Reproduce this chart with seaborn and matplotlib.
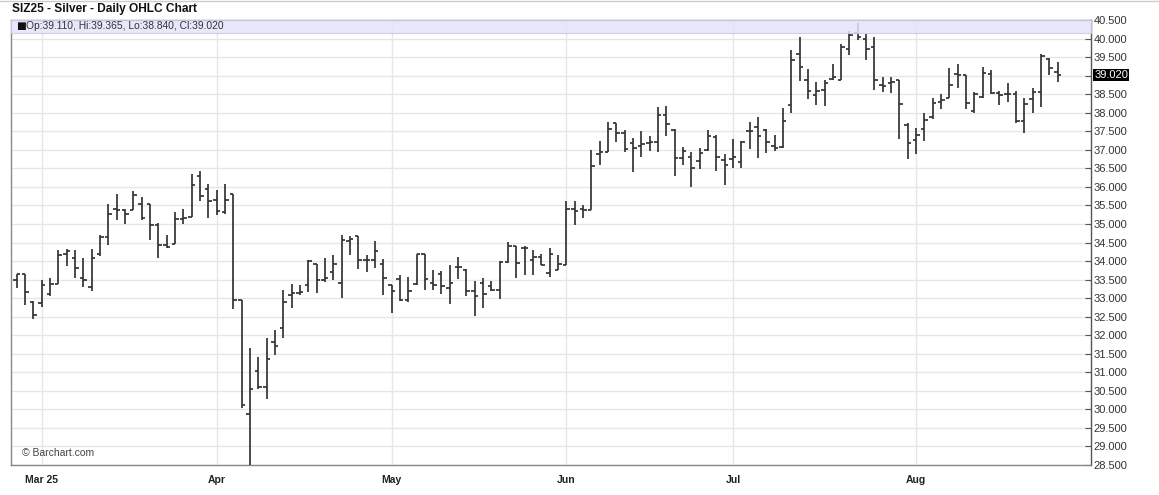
import numpy as np
import pandas as pd
import matplotlib
matplotlib.use('Agg')
import matplotlib.pyplot as plt
import matplotlib.transforms as mtransforms
from matplotlib.patches import Rectangle
import seaborn as sns

# OHLC values, one per trading day from 2025-02-26 to 2025-08-26
opens = [33.48, 33.64, 32.90, 32.87, 33.10, 33.39, 34.20, 34.08, 33.55, 33.30,
         34.20, 34.65, 35.40, 35.38, 35.38, 35.55, 35.54, 34.96, 34.42, 34.45,
         35.13, 35.18, 36.30, 35.94, 35.64, 35.31, 35.80, 32.96, 29.87, 31.03,
         30.59, 31.83, 32.19, 33.08, 33.14, 33.35, 33.93, 33.50, 33.70, 33.40,
         34.55, 34.67, 34.04, 34.04, 33.93, 33.36, 33.51, 32.95, 33.39, 34.18,
         33.41, 33.65, 33.27, 33.83, 33.76, 33.19, 33.42, 33.32, 33.23, 33.98,
         34.40, 34.35, 34.04, 34.10, 33.69, 33.76, 33.88, 35.41, 35.41, 35.38,
         36.89, 36.93, 37.72, 37.44, 37.17, 37.11, 37.17, 37.20, 37.94, 37.53,
         36.78, 36.81, 36.69, 36.99, 37.35, 36.72, 36.75, 36.67, 37.52, 37.61,
         37.54, 37.09, 37.07, 38.20, 39.59, 38.87, 38.47, 38.60, 38.92, 38.89,
         39.73, 40.15, 40.00, 39.77, 38.74, 38.80, 38.87, 37.66, 37.26, 37.55,
         37.89, 38.30, 38.41, 39.05, 39.03, 38.05, 38.42, 39.05, 38.54, 38.50,
         38.51, 37.78, 38.36, 38.57, 39.44, 39.11]
highs = [33.64, 33.64, 32.93, 33.50, 33.53, 34.29, 34.33, 34.29, 34.09, 34.33,
         34.71, 35.54, 35.80, 35.40, 35.89, 35.73, 35.54, 35.02, 34.71, 35.31,
         35.40, 36.34, 36.43, 36.09, 35.91, 36.07, 35.80, 32.96, 31.65, 31.41,
         31.92, 32.13, 33.21, 33.39, 33.35, 34.04, 33.93, 34.09, 34.17, 34.69,
         34.67, 34.67, 34.16, 34.55, 34.05, 33.36, 33.63, 33.57, 34.20, 34.20,
         33.76, 33.72, 33.89, 34.12, 33.78, 33.45, 33.54, 33.45, 34.00, 34.51,
         34.40, 34.40, 34.29, 34.20, 34.34, 34.16, 35.63, 35.63, 35.50, 36.99,
         37.24, 37.76, 37.72, 37.53, 37.33, 37.51, 37.38, 38.16, 38.19, 37.56,
         37.07, 36.93, 37.05, 37.53, 37.41, 36.89, 37.29, 37.23, 37.75, 37.88,
         37.57, 37.39, 38.14, 39.68, 40.03, 39.19, 38.83, 38.87, 39.32, 39.86,
         40.20, 40.41, 40.12, 40.03, 38.95, 38.95, 38.87, 37.73, 37.58, 38.00,
         38.41, 38.50, 39.21, 39.32, 39.03, 38.57, 39.23, 39.14, 38.58, 38.81,
         38.59, 38.39, 38.67, 39.57, 39.48, 39.365]
lows = [33.26, 32.81, 32.43, 32.76, 33.06, 33.39, 33.86, 33.53, 33.30, 33.20,
        34.13, 34.42, 35.10, 35.00, 35.38, 35.10, 34.57, 34.09, 34.35, 34.45,
        35.00, 35.18, 35.62, 35.16, 35.25, 35.27, 32.72, 30.04, 28.30, 30.54,
        30.27, 31.47, 31.92, 32.74, 33.08, 33.17, 33.14, 33.44, 33.48, 33.00,
        34.16, 33.78, 33.70, 33.82, 33.08, 32.61, 32.92, 32.90, 33.36, 33.21,
        33.21, 33.12, 32.83, 33.51, 33.07, 32.52, 32.74, 33.19, 32.98, 33.94,
        33.54, 33.63, 33.63, 33.90, 33.57, 33.76, 33.88, 34.98, 35.15, 35.38,
        36.60, 36.93, 37.20, 36.93, 36.39, 36.80, 36.98, 36.93, 37.38, 36.28,
        36.60, 35.99, 36.48, 36.96, 36.44, 36.05, 36.51, 36.51, 37.03, 36.78,
        36.91, 36.96, 37.05, 37.99, 38.86, 38.38, 38.20, 38.17, 38.89, 38.87,
        39.55, 39.95, 39.43, 38.60, 38.56, 38.53, 37.28, 36.75, 36.88, 37.24,
        37.82, 38.09, 38.41, 38.66, 38.09, 38.00, 38.39, 38.50, 38.21, 38.30,
        37.73, 37.44, 37.98, 38.15, 39.03, 38.84]
closes = [33.64, 33.17, 32.54, 33.35, 33.39, 34.15, 34.28, 33.80, 33.48, 34.09,
          34.65, 35.27, 35.38, 35.27, 35.79, 35.16, 34.96, 34.42, 34.39, 35.13,
          35.16, 36.05, 35.76, 35.61, 35.36, 35.64, 32.96, 30.13, 30.54, 30.59,
          31.36, 31.71, 32.90, 33.14, 33.17, 34.00, 33.48, 33.54, 33.93, 34.57,
          34.60, 34.04, 34.04, 34.28, 33.54, 33.19, 32.96, 33.19, 34.18, 33.51,
          33.36, 33.34, 33.41, 33.85, 33.19, 33.07, 33.10, 33.23, 33.98, 34.40,
          33.94, 34.35, 34.10, 33.90, 34.18, 33.91, 35.41, 35.34, 35.38, 36.57,
          36.93, 37.56, 37.44, 37.02, 37.06, 37.15, 37.20, 37.94, 37.69, 36.78,
          36.98, 36.51, 36.90, 37.38, 36.80, 36.60, 36.81, 37.21, 37.52, 37.36,
          37.21, 37.05, 37.77, 39.43, 39.23, 38.59, 38.59, 38.80, 38.96, 39.76,
          40.09, 40.05, 39.73, 38.87, 38.71, 38.83, 38.23, 37.17, 37.40, 37.80,
          38.27, 38.33, 38.76, 39.03, 38.27, 38.50, 39.08, 38.54, 38.48, 38.51,
          37.78, 38.24, 38.57, 39.53, 39.20, 39.02]

holidays = ['2025-04-18', '2025-05-26', '2025-06-19', '2025-07-04']
dates = pd.bdate_range('2025-02-26', '2025-08-26')
dates = dates[~dates.isin(pd.to_datetime(holidays))]

df = pd.DataFrame({'Date': dates, 'Open': opens, 'High': highs,
                   'Low': lows, 'Close': closes})
df['x'] = np.arange(len(df))

# first trading day of each month (skip February)
firsts = df.groupby(df['Date'].dt.to_period('M'))['x'].first()
firsts = firsts[firsts.index.month != 2]
month_labels = [d.strftime('%b') for d in firsts.index]
month_labels[0] = 'Mar 25'

sns.set_style('white')
plt.rcParams['font.family'] = ['Liberation Sans', 'DejaVu Sans']

fig = plt.figure(figsize=(11.59, 4.95), dpi=100)
ax = fig.add_axes([0.0095, 0.0606, 0.9318, 0.899])

bar_col = '#333333'
w = 0.42
ax.vlines(df['x'], df['Low'], df['High'], color=bar_col, lw=1.25, zorder=3)
ax.hlines(df['Open'], df['x'] - w, df['x'], color=bar_col, lw=1.25, zorder=3)
ax.hlines(df['Close'], df['x'], df['x'] + w, color=bar_col, lw=1.25, zorder=3)

ax.set_xlim(-0.7, 129.0)
ax.set_ylim(28.5, 40.5)

yt = np.arange(28.5, 40.51, 0.5)
ax.set_yticks(yt)
ax.set_yticklabels([f'{v:.3f}' for v in yt])
ax.yaxis.tick_right()
ax.tick_params(axis='y', direction='in', length=4, pad=2, labelsize=8,
               labelcolor='#333333', color='#555555', right=True, left=False)

ax.set_xticks(firsts.values)
ax.set_xticklabels(month_labels, fontweight='bold')
ax.tick_params(axis='x', direction='out', length=2, pad=5, labelsize=7.5,
               labelcolor='#222222', color='#777777')

ax.grid(True, color='#e6e6e6', lw=1, zorder=0)
ax.set_axisbelow(True)

for side in ['left', 'bottom', 'top']:
    ax.spines[side].set_color('#888888')
    ax.spines[side].set_linewidth(1)
ax.spines['right'].set_color('#555555')
ax.spines['right'].set_linewidth(1)

# legend band at the top of the plot
band_h = 13 / 445
ax.add_patch(Rectangle((0, 1 - band_h), 1, band_h, transform=ax.transAxes,
                       facecolor='#e4e4fa', edgecolor='#c9c9e4', lw=0.8,
                       alpha=0.85, zorder=4, clip_on=False))
ax.text(0.0045, 1 - band_h / 2, '\u25A0', transform=ax.transAxes, fontsize=7.5,
        va='center', ha='left', color='#111111', zorder=5,
        family=['DejaVu Sans'])
ax.text(0.0135, 1 - band_h / 2, 'Op:39.110, Hi:39.365, Lo:38.840, Cl:39.020',
        transform=ax.transAxes, fontsize=7.4, va='center', ha='left',
        color='#333333', zorder=5)

ax.text(0.01, 0.028, '\u00a9 Barchart.com', transform=ax.transAxes,
        fontsize=7.5, va='center', ha='left', color='#444444', zorder=5)

# last price label on the axis
trans = mtransforms.blended_transform_factory(ax.transAxes, ax.transData)
ax.text(1.003, closes[-1], f'{closes[-1]:.3f}', transform=trans, fontsize=8,
        va='center', ha='left', color='#ffffff', zorder=6,
        bbox=dict(boxstyle='square,pad=0.12', facecolor='#000000',
                  edgecolor='none'))

fig.text(0.0105, 0.981, 'SIZ25 - Silver - Daily OHLC Chart', fontsize=8.6,
         fontweight='bold', va='center', ha='left', color='#111111')
fig.add_artist(plt.Line2D([0, 1], [0.998, 0.998], color='#cccccc', lw=1))

fig.savefig('out.png', dpi=100)
